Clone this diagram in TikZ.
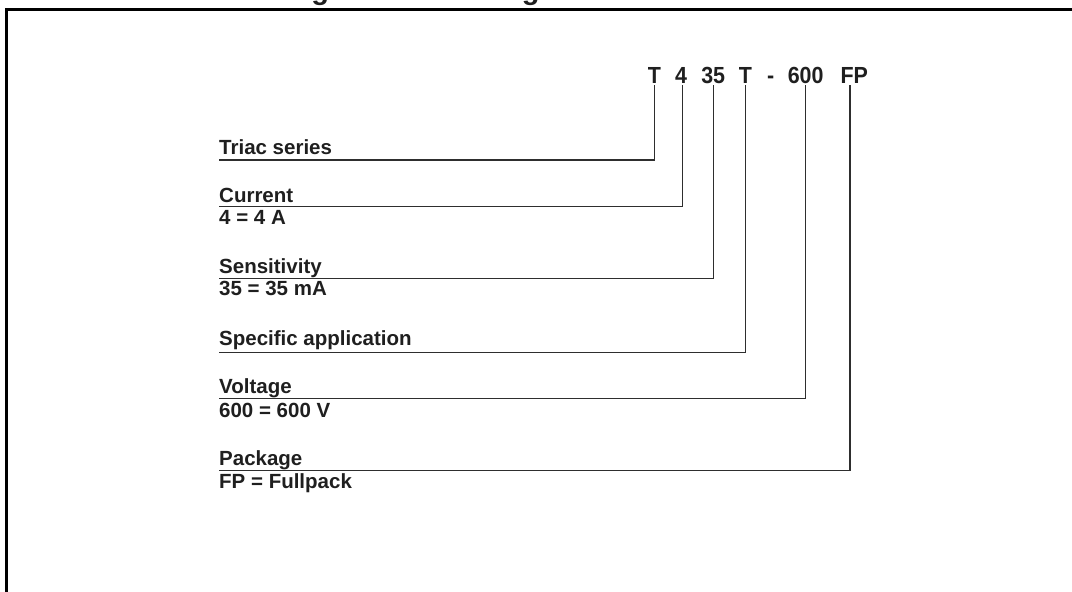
\documentclass[tikz,border=0pt]{standalone}
\usepackage{fontspec}
\setmainfont{Liberation Sans}
\newfontfamily\codefont[FakeStretch=0.92]{Liberation Sans}
\begin{document}
\begin{tikzpicture}[x=1pt,y=-1pt,
  labtxt/.style={font=\bfseries\fontsize{20.5}{24}\selectfont, text=black!88, anchor=base west, inner sep=0pt},
  codetxt/.style={font=\codefont\bfseries\fontsize{23.3}{27}\selectfont, text=black!88, anchor=base, inner sep=1.7pt},
  titletxt/.style={font=\bfseries\fontsize{29}{34}\selectfont, text=black!88, anchor=base west, inner sep=0pt},
  lead/.style={line width=1.4pt, draw=black!82},
  frameline/.style={line width=2.6pt, draw=black, line join=miter}]
\useasboundingbox (0,0) rectangle (1072,592);
\clip (0,0) rectangle (1072,592);
% caption, cut off by the top edge as in the reference
\node[titletxt] (title) at (285.4,-0.3) {Figure 1. Ordering information scheme};
% frame (top and left sides)
\coordinate (fbl) at (6.3,600);
\coordinate (ftl) at (6.3,9.6);
\coordinate (ftr) at (1080,9.6);
\draw[frameline] (fbl) -- (ftl) -- (ftr);
% part number
\node[codetxt] (cT)  at (654.3,83.3) {T};
\node[codetxt] (c4)  at (681.2,83.3) {4};
\node[codetxt] (c35) at (713.2,83.3) {35};
\node[codetxt] (cT2) at (745.3,83.3) {T};
\node[codetxt] (cd)  at (770.7,83.3) {-};
\node[codetxt] (c600) at (805.7,83.3) {600};
\node[codetxt] (cFP) at (854.2,83.3) {FP};
% labels
\node[labtxt] (lT) at (219,154) {Triac series};
\node[labtxt] (lC) at (219,202.7) {Current};
\node[labtxt] (lCs) at (219,224.3) {4 = 4 A};
\node[labtxt] (lS) at (219,273.5) {Sensitivity};
\node[labtxt] (lSs) at (219,295.5) {35 = 35 mA};
\node[labtxt] (lA) at (219,345.5) {Specific application};
\node[labtxt] (lV) at (219,393.3) {Voltage};
\node[labtxt] (lVs) at (219,417.3) {600 = 600 V};
\node[labtxt] (lP) at (219,465.5) {Package};
\node[labtxt] (lPs) at (219,488.5) {FP = Fullpack};
% connectors
\draw[lead] ([yshift=-6pt]lT.base west) -| (cT.south);
\draw[lead] ([yshift=-4pt]lC.base west) -| ([xshift=1.5pt]c4.south);
\draw[lead] ([yshift=-5pt]lS.base west) -| (c35.south);
\draw[lead] ([yshift=-7pt]lA.base west) -| (cT2.south);
\draw[lead] ([yshift=-5pt]lV.base west) -| (c600.south);
\draw[lead] ([yshift=-5pt]lP.base west) -| ([xshift=-4.2pt]cFP.south);
\end{tikzpicture}
\end{document}
